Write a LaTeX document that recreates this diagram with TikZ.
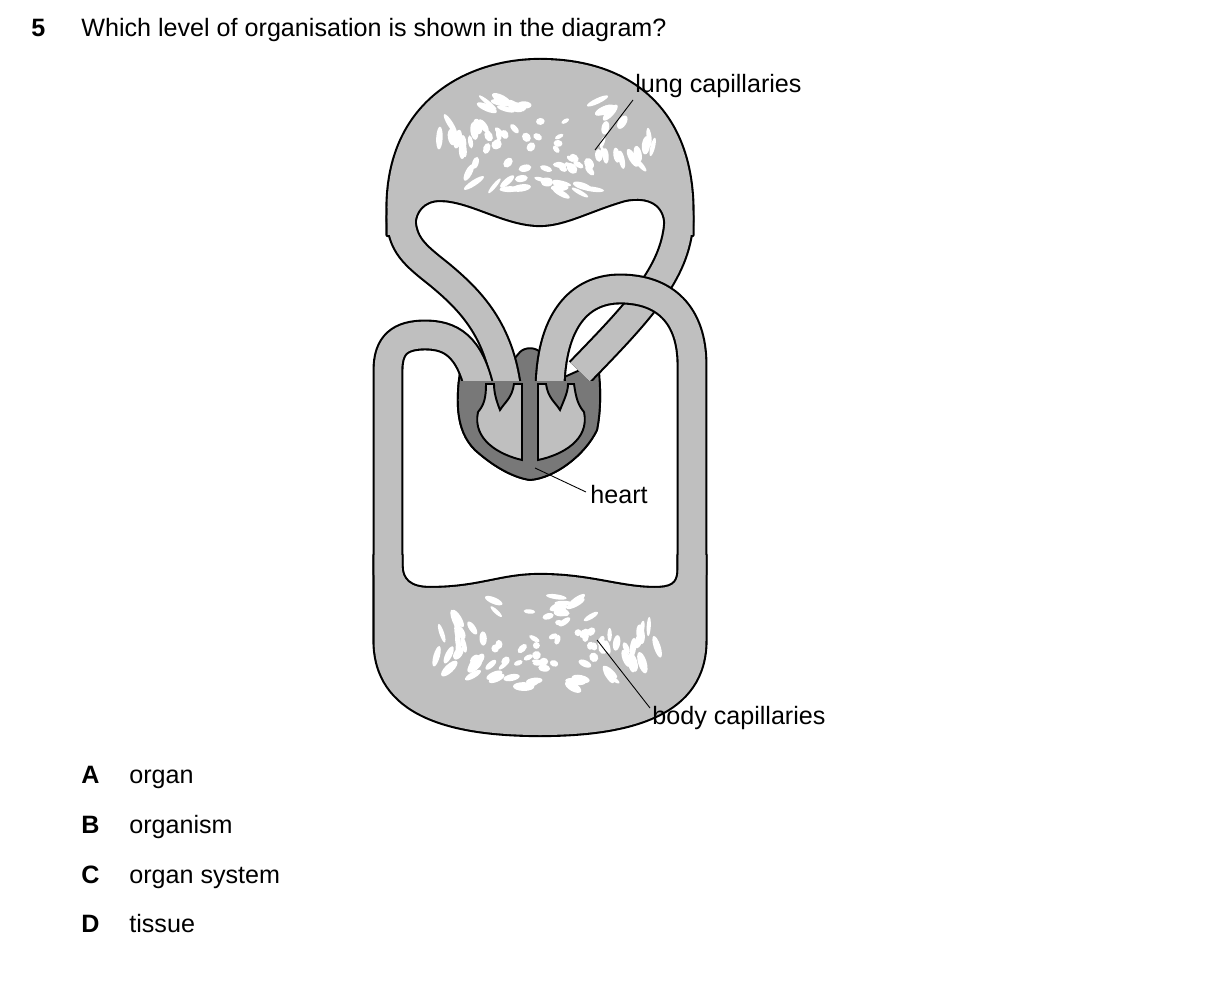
\documentclass[tikz,border=0pt]{standalone}
\usepackage{fontspec}
\setmainfont{Liberation Sans}
\usetikzlibrary{positioning}
\definecolor{vessel}{gray}{0.75}
\definecolor{muscle}{gray}{0.47}
\newcommand{\heartpath}{(462,358) .. controls (455,400) and (455,430) .. (475,450) .. controls (495,468) and (515,478) .. (530,480) .. controls (555,478) and (585,455) .. (597,430) .. controls (602,405) and (600,380) .. (598,362) -- (562,378) -- (540,352) .. controls (535,347) and (525,347) .. (520,352) -- (498,378) -- cycle}
\newcommand{\lungpath}{(387.5,235) -- (387.5,212) .. controls (386,100) and (470,60) .. (540,60) .. controls (630,60) and (692.5,110) .. (692.5,212) -- (692.5,235) -- (665.5,235) -- (665.5,225) .. controls (665,205) and (650,195) .. (625,200) .. controls (590,210) and (565,225) .. (540,225) .. controls (505,225) and (470,200) .. (440,200) .. controls (423,200) and (414.5,212) .. (414.5,225) -- (414.5,235) -- cycle}
\newcommand{\bodypath}{(374.5,555) -- (374.5,640) .. controls (374.5,715) and (450,735) .. (540,735) .. controls (630,735) and (705.5,715) .. (705.5,640) -- (705.5,555) -- (678.5,555) -- (678.5,570) .. controls (678.5,585) and (670,588) .. (655,588) .. controls (620,588) and (590,575) .. (540,575) .. controls (500,575) and (480,588) .. (430,588) .. controls (410,588) and (401.5,580) .. (401.5,565) -- (401.5,555) -- cycle}

\begin{document}
\begin{tikzpicture}[x=0.02cm, y=-0.02cm, font=\fontsize{14.3}{17}\selectfont]
	\tikzstyle{tubeline} = [draw=black, line width=17.6pt]
	\tikzstyle{tubefill} = [draw=vessel, line width=15.2pt]
	\tikzstyle{blobline} = [draw=black, line width=2.4pt, line join=round]
	\tikzstyle{blobfill} = [fill=vessel]
	\tikzstyle{spot} = [fill=white]
	\tikzstyle{wall} = [fill=muscle, line width=1.1pt]
	\tikzstyle{chamber} = [fill=vessel, line width=1.1pt]
	\tikzstyle{label} = [anchor=base west, inner sep=0pt]
	\tikzstyle{leader} = [draw=black, line width=0.5pt]
	\useasboundingbox (0,0) rectangle (1209,989);
	% heart muscle
	\draw [wall] \heartpath;
	% lung loop
	\path [blobline] \lungpath;
	\path [tubeline] (507,392) .. controls (500,330) and (470,300) .. (440,275) .. controls (415,255) and (401,245) .. (401,215);
	\path [tubeline] (679,215) .. controls (679,270) and (640,310) .. (580,372);
	\path [blobfill] \lungpath;
	\path [tubefill] (507,392) .. controls (500,330) and (470,300) .. (440,275) .. controls (415,255) and (401,245) .. (401,215);
	\path [tubefill] (679,215) .. controls (679,270) and (640,310) .. (580,372);
	\pgfmathsetseed{11}
	\foreach \i in {1,...,85} {
		\pgfmathsetmacro\ang{360*rnd}
		\pgfmathsetmacro\rad{sqrt(rnd)}
		\pgfmathsetmacro\rot{\ang+90+40*(rnd-0.5)}
		\pgfmathsetmacro\sa{2.5+3*rnd+7*\rad*\rad}
		\pgfmathsetmacro\sb{2+2.5*rnd}
		\path [spot] ({545+108*\rad*cos(\ang)},{145+52*\rad*sin(\ang)}) ellipse [x radius=\sa, y radius=\sb, rotate=\rot];
	}
	% body loop
	\path [blobline] \bodypath;
	\path [tubeline] (480,392) .. controls (470,345) and (450,335) .. (425,335) .. controls (400,335) and (388,345) .. (388,370) -- (388,575);
	\path [tubeline] (550,392) .. controls (550,320) and (580,289) .. (620,289) .. controls (665,289) and (692,315) .. (692,365) -- (692,575);
	\path [blobfill] \bodypath;
	\path [tubefill] (480,392) .. controls (470,345) and (450,335) .. (425,335) .. controls (400,335) and (388,345) .. (388,370) -- (388,575);
	\path [tubefill] (550,392) .. controls (550,320) and (580,289) .. (620,289) .. controls (665,289) and (692,315) .. (692,365) -- (692,575);
	\foreach \i in {1,...,90} {
		\pgfmathsetmacro\ang{360*rnd}
		\pgfmathsetmacro\rad{sqrt(rnd)}
		\pgfmathsetmacro\rot{\ang+90+40*(rnd-0.5)}
		\pgfmathsetmacro\sa{2.5+3*rnd+7*\rad*\rad}
		\pgfmathsetmacro\sb{2+2.5*rnd}
		\path [spot] ({545+114*\rad*cos(\ang)},{643+48*\rad*sin(\ang)}) ellipse [x radius=\sa, y radius=\sb, rotate=\rot];
	}
	% heart lower part over the vessel ends
	\begin{scope}
		\clip (0,382) rectangle (1209,600);
		\draw [wall] \heartpath;
	\end{scope}
	\draw [chamber] (478,412) .. controls (472,440) and (500,455) .. (522,460) -- (522,384) -- (514,384) .. controls (512,398) and (505,402) .. (500,410) .. controls (496,400) and (494,392) .. (494,384) -- (486,384) .. controls (486,398) and (484,405) .. (478,412);
	\draw [chamber] (584,412) .. controls (590,440) and (562,455) .. (538,460) -- (538,384) -- (546,384) .. controls (548,398) and (555,402) .. (560,410) .. controls (564,400) and (568,392) .. (568,384) -- (574,384) .. controls (576,398) and (578,405) .. (584,412);
	% labels
	\node (lungLabel) [label] at (635,93) {lung capillaries};
	\node (heartLabel) [label] at (590,503) {heart};
	\node (bodyLabel) [label] at (652,724) {body capillaries};
	\coordinate (lungStart) at (633,100);
	\coordinate (lungEnd) at (595,150);
	\coordinate (heartStart) at (586,492);
	\coordinate (heartEnd) at (535,468);
	\coordinate (bodyStart) at (650,708);
	\coordinate (bodyEnd) at (597,640);
	\draw [leader] (lungStart) -- (lungEnd);
	\draw [leader] (heartStart) -- (heartEnd);
	\draw [leader] (bodyStart) -- (bodyEnd);
	% question
	\node (qNum) [label, font=\fontsize{14.3}{17}\selectfont\bfseries] at (31,37) {5};
	\node (qText) [label] at (81,37) {Which level of organisation is shown in the diagram?};
	\foreach \ltr/\txt/\yy in {A/organ/783, B/organism/833, C/organ system/883, D/tissue/932} {
		\node (opt\ltr) [label, font=\fontsize{14.3}{17}\selectfont\bfseries] at (81,\yy) {\ltr};
		\node (txt\ltr) [label] at (129,\yy) {\txt};
	}
\end{tikzpicture}
\end{document}
